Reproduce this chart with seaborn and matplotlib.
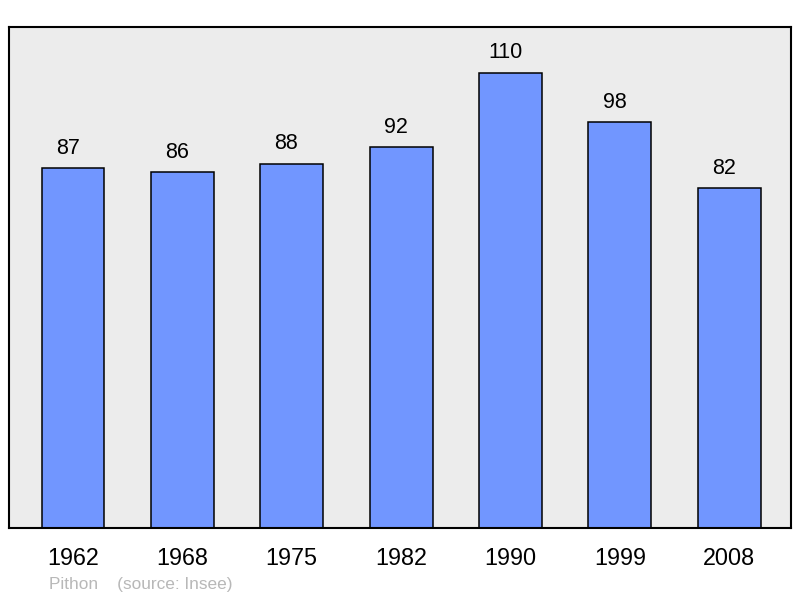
import matplotlib
matplotlib.use("Agg")
import matplotlib.pyplot as plt
import seaborn as sns
import pandas as pd

# data
years = ["1962", "1968", "1975", "1982", "1990", "1999", "2008"]
population = [87, 86, 88, 92, 110, 98, 82]

sns.set_theme(style="white")
plt.rcParams['font.family'] = ['Liberation Sans', 'DejaVu Sans']

df = pd.DataFrame({"year": years, "pop": population})

fig = plt.figure(figsize=(8, 5.98), dpi=100)
ax = fig.add_axes([9 / 800, 70 / 598, 782 / 800, 501 / 598])
ax.set_facecolor("#ececec")

sns.barplot(data=df, x="year", y="pop", color="#7196ff", saturation=1,
            width=0.575, edgecolor="black", linewidth=1.1, ax=ax)

for i, v in enumerate(population):
    ax.annotate(str(v), (i, v), xytext=(-3.8, 14.2), textcoords="offset points",
                ha="center", va="center", fontsize=15.5, color="black")

ax.set_ylim(0, 121)
ax.set_xlim(-0.585, 6.565)
ax.set_yticks([])
ax.set_xlabel("")
ax.set_ylabel("")
ax.tick_params(axis="x", length=0, labelsize=16.8, pad=13.5, colors="black")
for s in ax.spines.values():
    s.set_linewidth(1.5)
    s.set_color("black")

fig.text(49 / 800, 1 - 584 / 598, "Pithon    (source: Insee)", fontsize=12.4,
         color="#b8b8b8", va="center", ha="left")

fig.savefig("out.png", dpi=100)
